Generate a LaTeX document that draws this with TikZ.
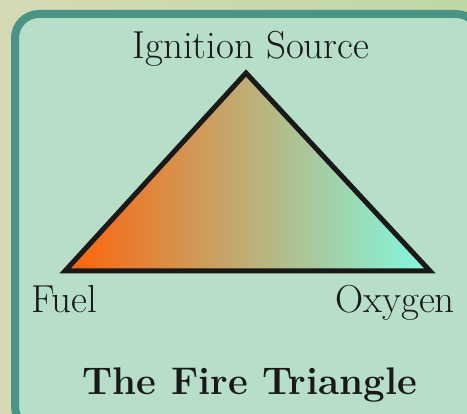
\documentclass[tikz,border=0pt]{standalone}
\usepackage{tikz}
\usetikzlibrary{positioning}
\definecolor{pagebg}{HTML}{D5DAB4}
\definecolor{pagebgright}{HTML}{BED7A5}
\definecolor{panelline}{HTML}{4A9485}
\definecolor{panelfill}{HTML}{B6DEC8}
\definecolor{fireleft}{HTML}{FF6208}
\definecolor{firemid}{HTML}{CDA878}
\definecolor{fireright}{HTML}{80FAE4}
\tikzset{
	panel/.style={draw=panelline, line width=8pt, fill=panelfill, rounded corners=24pt},
	firetri/.style={draw=black!90, line width=5pt, line join=miter, left color=fireleft, middle color=firemid, right color=fireright},
	cornerlabel/.style={font=\fontsize{39}{44}\selectfont, text=black!90, inner sep=0pt},
	titlelabel/.style={font=\fontsize{38.5}{44}\selectfont\bfseries, text=black!90, inner sep=0pt}
}

\begin{document}
\begin{tikzpicture}[x=1pt, y=-1pt]
	\useasboundingbox (0,0) rectangle (467,414);
	\shade[left color=pagebg, right color=pagebgright] (0,0) rectangle (467,414);
	\draw[panel] (15,14) rectangle (480,430);
	% corners of the triangle
	\coordinate (ign) at (246,73);
	\coordinate (fuel) at (65,271);
	\coordinate (oxy) at (430,271);
	\draw[firetri] (fuel) -- (ign) -- (oxy) -- cycle;
	\node[cornerlabel, anchor=base] (ignlabel) at (251,59) {Ignition Source};
	\node[cornerlabel, anchor=base west] (fuellabel) at (31,313) {Fuel};
	\node[cornerlabel, anchor=base east] (oxylabel) at (455,313) {Oxygen};
	\node[titlelabel, anchor=base] (title) at (250,395) {The Fire Triangle};
\end{tikzpicture}
\end{document}
